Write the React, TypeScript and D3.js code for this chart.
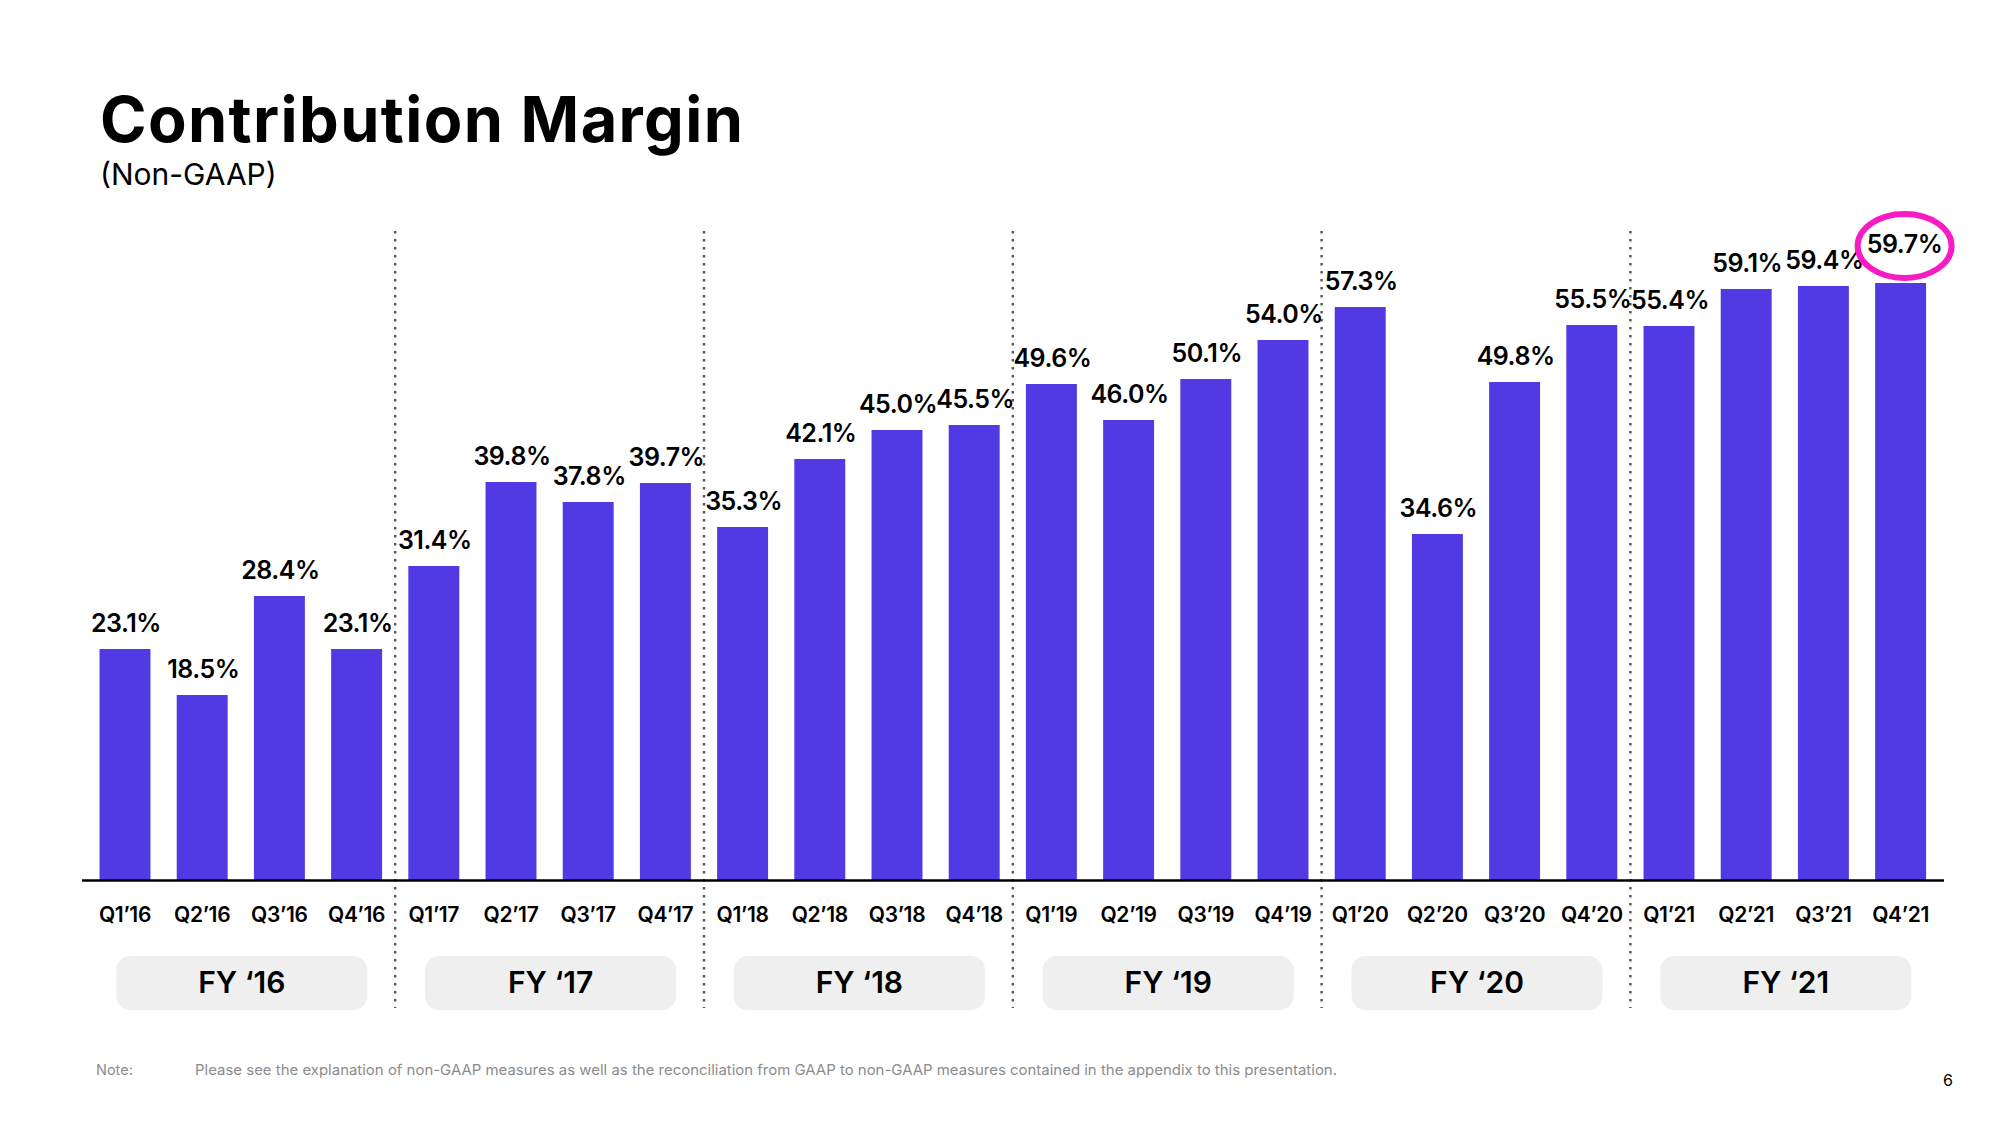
import React from "react";
import * as d3 from "d3";

const quarters = [
  "Q1’16", "Q2’16", "Q3’16", "Q4’16",
  "Q1’17", "Q2’17", "Q3’17", "Q4’17",
  "Q1’18", "Q2’18", "Q3’18", "Q4’18",
  "Q1’19", "Q2’19", "Q3’19", "Q4’19",
  "Q1’20", "Q2’20", "Q3’20", "Q4’20",
  "Q1’21", "Q2’21", "Q3’21", "Q4’21",
];
const margins = [
  23.1, 18.5, 28.4, 23.1,
  31.4, 39.8, 37.8, 39.7,
  35.3, 42.1, 45.0, 45.5,
  49.6, 46.0, 50.1, 54.0,
  57.3, 34.6, 49.8, 55.5,
  55.4, 59.1, 59.4, 59.7,
];
const fiscalYears = ["FY ‘16", "FY ‘17", "FY ‘18", "FY ‘19", "FY ‘20", "FY ‘21"];
const title = "Contribution Margin";
const subtitle = "(Non-GAAP)";
const noteLabel = "Note:";
const noteText =
  "Please see the explanation of non-GAAP measures as well as the reconciliation from GAAP to non-GAAP measures contained in the appendix to this presentation.";
const pageNumber = "6";

const W = 2000;
const H = 1125;
const FONT = "Inter, 'Noto Sans', sans-serif";
const BAR = "#5139E3";
const PINK = "#F81BC4";

export default function App() {
  const x = d3
    .scaleBand<string>()
    .domain(quarters)
    .range([86.4, 1939.2])
    .paddingInner(0.34)
    .paddingOuter(0.17);
  const y = d3.scaleLinear().domain([0, 70]).range([880, 180]);
  const step = x.step();
  const bw = x.bandwidth();
  const cx = (q: string) => (x(q) as number) + bw / 2;
  const last = quarters.length - 1;

  return (
    <svg
      width={W}
      height={H}
      viewBox={`0 0 ${W} ${H}`}
      style={{ position: "absolute", left: 0, top: 0, background: "#fff" }}
      fontFamily={FONT}
    >
      <rect x={0} y={0} width={W} height={H} fill="#fff" />
      <text
        x={100}
        y={141.5}
        fontSize={63}
        fontWeight={700}
        fill="#000"
        textLength={643}
        lengthAdjust="spacing"
      >
        {title}
      </text>
      <text x={100} y={185} fontSize={30} fontWeight={400} fill="#000">
        {subtitle}
      </text>

      {/* separators */}
      {fiscalYears.slice(0, -1).map((fy, i) => {
        const q = quarters[i * 4 + 3];
        const sx = cx(q) + step / 2;
        return (
          <line
            key={fy}
            x1={sx}
            x2={sx}
            y1={231}
            y2={1008}
            stroke="#555"
            strokeWidth={2.4}
            strokeDasharray="2.4 5.6"
          />
        );
      })}

      {/* pills */}
      {fiscalYears.map((fy, i) => {
        const mid = (cx(quarters[i * 4]) + cx(quarters[i * 4 + 3])) / 2 + 1;
        return (
          <g key={fy}>
            <rect x={mid - 125.5} y={956} width={251} height={54} rx={14} fill="#EFEFEF" />
            <text
              x={mid}
              y={992.5}
              textAnchor="middle"
              fontSize={30}
              fontWeight={600}
              fill="#000"
            >
              {fy}
            </text>
          </g>
        );
      })}

      {/* bars */}
      {quarters.map((q, i) => (
        <rect
          key={q}
          x={x(q)}
          y={y(margins[i])}
          width={bw}
          height={y(0) - y(margins[i])}
          fill={BAR}
        />
      ))}

      {/* axis line */}
      <line x1={82} x2={1944} y1={880.5} y2={880.5} stroke="#000" strokeWidth={2.4} />

      {/* value labels */}
      {quarters.map((q, i) => (
        <text
          key={q}
          x={cx(q) + (i === last ? 4 : 1)}
          y={y(margins[i]) - (i === last ? 30 : 17)}
          textAnchor="middle"
          fontSize={25}
          fontWeight={600}
          letterSpacing={-0.5}
          fill="#000"
        >
          {margins[i].toFixed(1)}%
        </text>
      ))}
      <ellipse
        cx={cx(quarters[last]) + 4}
        cy={y(margins[last]) - 37}
        rx={47}
        ry={32}
        fill="none"
        stroke={PINK}
        strokeWidth={6}
      />

      {/* category labels */}
      {quarters.map((q) => (
        <text
          key={q}
          x={cx(q)}
          y={921.5}
          textAnchor="middle"
          fontSize={21}
          fontWeight={600}
          letterSpacing={-0.3}
          fill="#000"
        >
          {q}
        </text>
      ))}

      {/* note */}
      <text x={96} y={1075} fontSize={14.5} fill="#8C8C8C">
        {noteLabel}
      </text>
      <text x={195} y={1075} fontSize={14.5} fill="#8C8C8C" textLength={1142} lengthAdjust="spacingAndGlyphs">
        {noteText}
      </text>
      <text x={1948} y={1086} fontSize={16} textAnchor="middle" fill="#000">
        {pageNumber}
      </text>
    </svg>
  );
}
